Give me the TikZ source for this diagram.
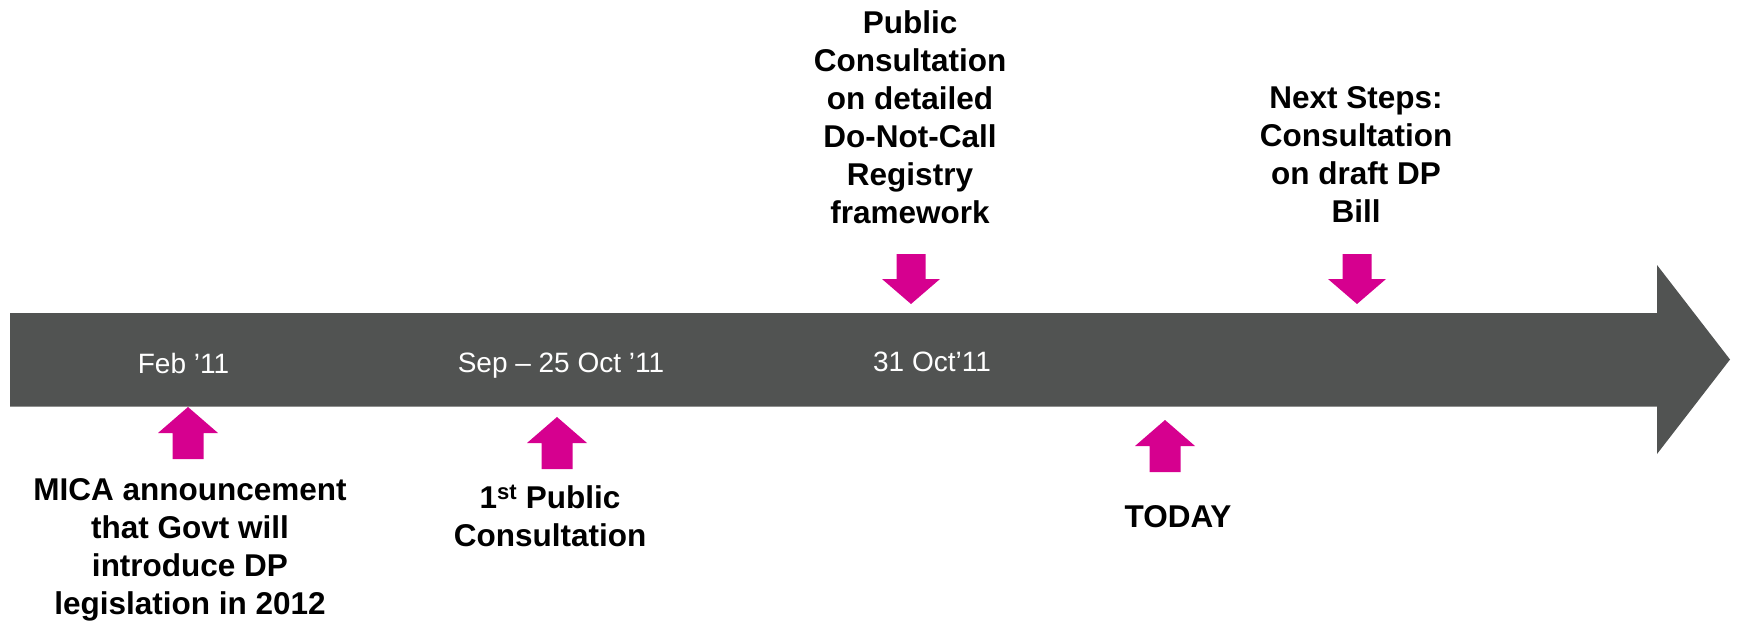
\documentclass[tikz,border=0pt]{standalone}
\usepackage{fontspec}
\setmainfont{Liberation Sans}
\definecolor{bandgray}{RGB}{81,83,82}
\definecolor{pink}{RGB}{214,0,143}
\begin{document}
\begin{tikzpicture}[x=1pt,y=-1pt,
  event/.style={inner sep=0pt, align=center, anchor=north, text=black,
    font=\fontsize{31.5}{38}\selectfont\bfseries},
  datelabel/.style={inner sep=0pt, anchor=base, text=white,
    font=\fontsize{28}{33}\selectfont},
  uparr/.pic={\fill[pink] (0,0) -- (30,26) -- (15.5,26) -- (15.5,52) -- (-15.5,52) -- (-15.5,26) -- (-30,26) -- cycle;},
  downarr/.pic={\fill[pink] (0,0) -- (29,-25) -- (14.5,-25) -- (14.5,-50) -- (-14.5,-50) -- (-14.5,-25) -- (-29,-25) -- cycle;}
]
\useasboundingbox (0,0) rectangle (1737,623);
% main timeline arrow
\fill[bandgray] (10,313) -- (1657,313) -- (1657,265) -- (1730,359.5) -- (1657,454) -- (1657,406.5) -- (10,406.5) -- cycle;
% date labels
\node[datelabel] (feb) at (183.5,373) {Feb ’11};
\node[datelabel] (sep) at (561,372) {Sep – 25 Oct ’11};
\node[datelabel] (oct) at (932,371) {31 Oct’11};
% markers
\pic at (188,407) {uparr};
\pic at (557,417) {uparr};
\pic at (1165,420) {uparr};
\pic at (911,304) {downarr};
\pic at (1357,304) {downarr};
% event texts
\node[event] (mica) at (190,478.5) {MICA announcement\\that Govt will\\introduce DP\\legislation in 2012};
\node[event] (first) at (550,484.5) {1\textsuperscript{st} Public\\Consultation};
\node[event] (dnc) at (910,10.5) {Public\\Consultation\\on detailed\\Do-Not-Call\\Registry\\framework};
\node[event] (next) at (1356,86.5) {Next Steps:\\Consultation\\on draft DP\\Bill};
\node[event] (today) at (1178,505.5) {TODAY};
\end{tikzpicture}
\end{document}
